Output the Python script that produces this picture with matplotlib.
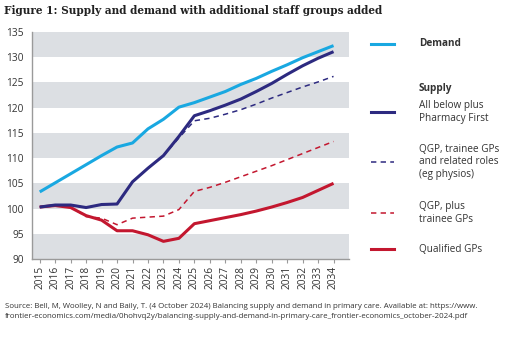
import matplotlib
matplotlib.use("Agg")
import matplotlib.pyplot as plt
from matplotlib.lines import Line2D

years = list(range(2015, 2035))
demand = [103.3, 105.1, 106.9, 108.7, 110.5, 112.2, 113.0, 115.8, 117.7, 120.1,
          121.0, 122.1, 123.2, 124.6, 125.8, 127.2, 128.5, 129.9, 131.1, 132.3]
pharmacy_first = [100.3, 100.7, 100.7, 100.2, 100.8, 100.9, 105.3, 108.0, 110.5, 114.3,
                  118.4, 119.4, 120.5, 121.7, 123.2, 124.8, 126.6, 128.3, 129.8, 131.1]
qgp_trainee_roles = [100.3, 100.7, 100.7, 100.2, 100.8, 100.9, 105.3, 108.0, 110.5, 114.0,
                     117.4, 117.9, 118.7, 119.6, 120.7, 121.9, 123.0, 124.1, 125.1, 126.2]
qgp_trainee = [100.3, 100.6, 100.3, 98.4, 98.1, 96.8, 98.1, 98.3, 98.5, 99.8,
               103.4, 104.2, 105.2, 106.3, 107.4, 108.5, 109.7, 110.9, 112.1, 113.3]
qualified_gps = [100.3, 100.6, 100.2, 98.6, 97.7, 95.6, 95.6, 94.8, 93.5, 94.1,
                 97.0, 97.6, 98.2, 98.8, 99.5, 100.3, 101.2, 102.2, 103.6, 105.0]
y_ticks = list(range(90, 136, 5))

C_DEM = "#19A8E1"
C_NAVY = "#2D2A80"
C_RED = "#C3172F"
C_BAND = "#DCDFE3"
C_TXT = "#333333"
C_AX = "#9A9A9A"
LW = 2.2
DASH = (0, (3.5, 2.8))

W, H = 511, 338
fig = plt.figure(figsize=(W / 100, H / 100), dpi=100)
ax = fig.add_axes([32 / W, 1 - 259 / H, (349 - 32) / W, (259 - 32) / H])

ax.set_xlim(2014.5, 2035.0)
ax.set_ylim(90, 135)
for lo in range(90, 135, 10):
    ax.axhspan(lo, lo + 5, color=C_BAND, lw=0, zorder=0)

ax.plot(years, qualified_gps, color=C_RED, lw=LW, solid_capstyle="butt", zorder=3)
ax.plot(years, qgp_trainee, color=C_RED, lw=1.1, ls=DASH, zorder=2)
ax.plot(years, qgp_trainee_roles, color=C_NAVY, lw=1.1, ls=DASH, zorder=2)
ax.plot(years, pharmacy_first, color=C_NAVY, lw=LW, solid_capstyle="butt", zorder=3)
ax.plot(years, demand, color=C_DEM, lw=LW, solid_capstyle="butt", zorder=4)

for s in ["top", "right"]:
    ax.spines[s].set_visible(False)
for s in ["left", "bottom"]:
    ax.spines[s].set_color(C_AX)
    ax.spines[s].set_linewidth(1.0)

tick_font = dict(family="Open Sans", size=7.3, color=C_TXT)
ax.set_yticks(y_ticks)
ax.set_yticklabels([str(v) for v in y_ticks], **tick_font)
ax.tick_params(axis="y", length=0, pad=6)
ax.set_xticks(years)
ax.set_xticklabels([str(y) for y in years], rotation=90, **tick_font)
ax.tick_params(axis="x", length=3, color=C_AX, pad=2)

fig.text(4 / W, 1 - 11 / H, "Figure 1: Supply and demand with additional staff groups added",
         family="DejaVu Serif", weight="bold", size=7.6, color="#222222", va="center", ha="left")

leg_font = dict(family="Open Sans", size=7.2, color=C_TXT, ha="left", va="center")
def handle(y, color, lw, ls="-"):
    fig.add_artist(Line2D([371 / W, 394 / W], [1 - y / H, 1 - y / H], color=color, lw=lw,
                          ls=ls, transform=fig.transFigure))

handle(44, C_DEM, LW)
fig.text(419 / W, 1 - 44 / H, "Demand", weight="bold", **leg_font)
fig.text(419 / W, 1 - 89 / H, "Supply", weight="bold", **leg_font)
handle(112, C_NAVY, LW)
fig.text(419 / W, 1 - 112 / H, "All below plus\nPharmacy First", linespacing=1.15, **leg_font)
handle(162, C_NAVY, 1.1, DASH)
fig.text(419 / W, 1 - 162 / H, "QGP, trainee GPs\nand related roles\n(eg physios)", linespacing=1.15, **leg_font)
handle(213, C_RED, 1.1, DASH)
fig.text(419 / W, 1 - 213 / H, "QGP, plus\ntrainee GPs", linespacing=1.15, **leg_font)
handle(249, C_RED, LW)
fig.text(419 / W, 1 - 249 / H, "Qualified GPs", **leg_font)

fig.text(5 / W, 1 - 311.5 / H,
         "Source: Bell, M, Woolley, N and Baily, T. (4 October 2024) Balancing supply and demand in primary care. Available at: https://www.\n"
         "frontier-economics.com/media/0hohvq2y/balancing-supply-and-demand-in-primary-care_frontier-economics_october-2024.pdf",
         family="Open Sans", size=5.7, color=C_TXT, ha="left", va="center", linespacing=1.5)

fig.savefig("out.png", dpi=100)
